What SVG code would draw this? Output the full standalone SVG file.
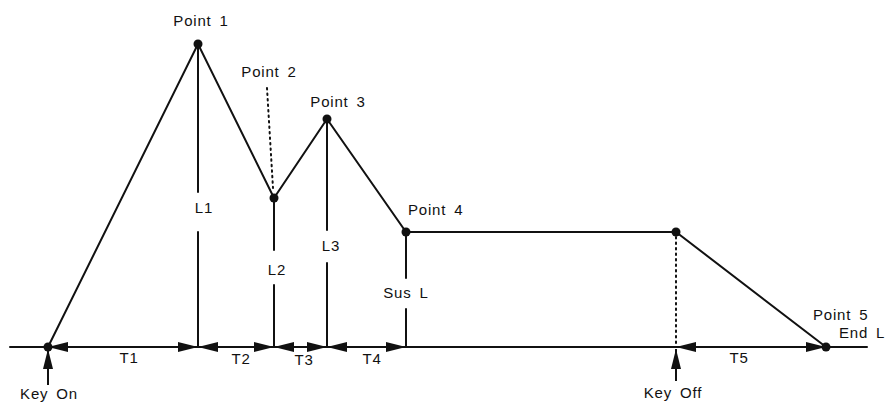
<svg xmlns="http://www.w3.org/2000/svg" width="889" height="410" viewBox="0 0 889 410">
<defs>
<style>
text{font-family:"Liberation Sans",Arial,sans-serif;font-size:15px;fill:#111;letter-spacing:0.8px;word-spacing:3px}
.m{text-anchor:middle}
.ln{stroke:#111;stroke-width:2;fill:none;stroke-linecap:round}
.dot{stroke:#111;stroke-width:2;fill:none;stroke-dasharray:1.5 4;stroke-linecap:round}
.ar{stroke:#111;stroke-width:2;fill:none;marker-start:url(#ah);marker-end:url(#ah)}
.up{stroke:#111;stroke-width:2;fill:none;marker-end:url(#ah)}
circle{fill:#111}
</style>
<marker id="ah" viewBox="0 0 20 10" refX="20" refY="5" markerWidth="20" markerHeight="10" markerUnits="userSpaceOnUse" orient="auto-start-reverse">
<path d="M0,0 L20,5 L0,10 z" fill="#111"/>
</marker>
</defs>
<g id="connectors">
<line class="ln" x1="10" y1="347" x2="867" y2="347"/>
<polyline class="ln" points="48,347 198,44 274,198 327,119 406,232 676,232 826,347"/>
<line class="ln" x1="198" y1="44" x2="198" y2="192"/>
<line class="ln" x1="198" y1="232" x2="198" y2="347"/>
<line class="ln" x1="274" y1="198" x2="274" y2="250"/>
<line class="ln" x1="274" y1="285" x2="274" y2="347"/>
<line class="ln" x1="327" y1="119" x2="327" y2="230"/>
<line class="ln" x1="327" y1="263" x2="327" y2="347"/>
<line class="ln" x1="406" y1="232" x2="406" y2="278"/>
<line class="ln" x1="406" y1="309" x2="406" y2="347"/>
<line class="dot" x1="267" y1="88" x2="273" y2="188"/>
<line class="dot" x1="676" y1="237" x2="676" y2="345"/>
<line class="ar" x1="48" y1="347" x2="198" y2="347"/>
<line class="ar" x1="198" y1="347" x2="274" y2="347"/>
<line class="ar" x1="274" y1="347" x2="327" y2="347"/>
<line class="ar" x1="327" y1="347" x2="406" y2="347"/>
<line class="ar" x1="676" y1="347" x2="826" y2="347"/>
<line class="up" x1="48" y1="385" x2="48" y2="349"/>
<line class="up" x1="676" y1="381" x2="676" y2="349"/>
</g>
<g id="keyon"><circle cx="48" cy="347" r="4.5"/><text class="m" x="49" y="399">Key On</text></g>
<g id="point1"><circle cx="198" cy="44" r="4.5"/><text class="m" x="201" y="26">Point 1</text></g>
<g id="point2"><circle cx="274" cy="198" r="4.5"/><text class="m" x="269" y="77">Point 2</text></g>
<g id="point3"><circle cx="327" cy="119" r="4.5"/><text class="m" x="338" y="107">Point 3</text></g>
<g id="point4"><circle cx="406" cy="232" r="4.5"/><text x="408" y="215">Point 4</text></g>
<g id="keyoff"><circle cx="676" cy="232" r="4.5"/><text class="m" x="673" y="398">Key Off</text></g>
<g id="point5"><circle cx="826" cy="347" r="4.5"/><text x="813" y="320">Point 5</text><text x="839" y="338">End L</text></g>
<g id="labels">
<text class="m" x="204" y="213">L1</text>
<text class="m" x="277" y="275">L2</text>
<text class="m" x="331" y="251">L3</text>
<text class="m" x="406" y="298">Sus L</text>
<text class="m" x="129" y="363">T1</text>
<text class="m" x="241" y="364">T2</text>
<text class="m" x="304" y="365">T3</text>
<text class="m" x="372" y="364">T4</text>
<text class="m" x="739" y="363">T5</text>
</g>
</svg>
